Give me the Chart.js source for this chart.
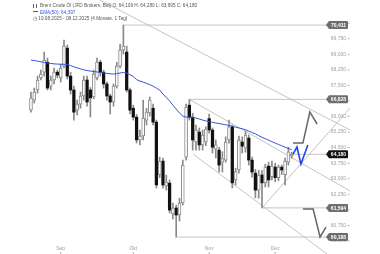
<!DOCTYPE html>
<html>
<head>
<meta charset="utf-8">
<script src="https://cdn.jsdelivr.net/npm/chart.js@4.4.1/dist/chart.umd.min.js"></script>
<style>
  html, body { margin: 0; padding: 0; background: #fff; }
  #wrap { position: relative; width: 380px; height: 254px; overflow: hidden; }
  canvas { position: absolute; left: 0; top: 0; }
  .hdr { position: absolute; left: 33px; font-family: "Liberation Sans", Arial, sans-serif; font-size: 4.7px; line-height: 6px; color: #555; white-space: nowrap; }
  .ico { display: inline-block; width: 4px; height: 4px; margin-right: 3px; border-left: 1px solid #666; border-right: 1px solid #666; vertical-align: -0.5px; box-sizing: border-box; }
  .dash { display: inline-block; width: 5px; height: 1.2px; background: #3355dd; margin-right: 2px; vertical-align: 1.5px; }
</style>
</head>
<body>
<div id="wrap">
  <canvas id="chart" width="380" height="254"></canvas>
  <div class="hdr" style="top:3px"><span class="ico"></span><span id="h1"></span></div>
  <div class="hdr" style="top:9.5px; color:#3355dd"><span class="dash"></span><span id="h2"></span></div>
  <div class="hdr" style="top:16px"><span id="h3"></span></div>
</div>
<script>
// Brent Crude Öl, daily candles 19.08.2025 - 08.12.2025
const dates = ['19.08.2025','20.08.2025','21.08.2025','22.08.2025','25.08.2025','26.08.2025','27.08.2025','28.08.2025','29.08.2025',
  '01.09.2025','02.09.2025','03.09.2025','04.09.2025','05.09.2025','08.09.2025','09.09.2025','10.09.2025','11.09.2025','12.09.2025',
  '15.09.2025','16.09.2025','17.09.2025','18.09.2025','19.09.2025','22.09.2025','23.09.2025','24.09.2025','25.09.2025','26.09.2025',
  '29.09.2025','30.09.2025',
  '01.10.2025','02.10.2025','03.10.2025','06.10.2025','07.10.2025','08.10.2025','09.10.2025','10.10.2025','13.10.2025','14.10.2025',
  '15.10.2025','16.10.2025','17.10.2025','20.10.2025','21.10.2025','22.10.2025','23.10.2025','24.10.2025','27.10.2025','28.10.2025',
  '29.10.2025','30.10.2025','31.10.2025',
  '03.11.2025','04.11.2025','05.11.2025','06.11.2025','07.11.2025','10.11.2025','11.11.2025','12.11.2025','13.11.2025','14.11.2025',
  '17.11.2025','18.11.2025','19.11.2025','20.11.2025','21.11.2025','24.11.2025','25.11.2025','26.11.2025','27.11.2025','28.11.2025',
  '01.12.2025','02.12.2025','03.12.2025','04.12.2025','05.12.2025','08.12.2025'];

const open = [66.31,66.79,67.28,67.86,68.14,68.62,67.47,67.76,68.14,67.86,
  68.43,69.30,67.95,67.28,66.31,66.60,66.99,67.76,67.28,66.95,
  67.86,68.62,68.14,67.57,66.99,66.70,67.47,68.43,69.21,69.11,
  67.28,66.40,65.97,64.87,65.06,65.83,66.17,66.40,65.73,63.20,
  63.85,62.65,62.79,61.30,61.59,61.25,61.83,64.04,66.55,65.97,
  64.77,65.25,64.63,64.77,65.90,65.35,64.43,64.38,63.80,63.90,
  64.87,65.50,62.94,63.42,64.77,64.48,64.96,63.90,63.27,62.45,
  63.18,62.80,63.61,63.10,63.56,63.05,63.56,63.20,63.80,64.109];
const high = [67.18,67.37,67.95,68.24,69.11,68.82,67.95,68.34,68.24,68.53,
  69.69,69.45,68.14,67.47,66.79,67.18,67.95,67.95,67.40,68.24,
  68.82,68.72,68.24,67.66,67.08,67.57,68.62,69.50,70.411,69.40,
  67.37,66.55,66.10,65.35,66.79,66.40,66.94,66.60,65.83,64.04,
  64.00,63.18,62.94,61.83,61.73,62.06,63.90,66.60,66.828,66.16,
  65.59,65.45,65.35,65.50,66.12,65.45,64.87,64.52,64.30,65.02,
  65.83,65.59,63.51,65.06,65.02,65.30,65.11,64.04,63.45,63.40,
  63.40,63.70,63.80,63.85,63.75,63.66,63.66,64.00,64.52,64.28];
const low = [66.21,66.65,67.13,67.76,67.95,67.28,67.28,67.57,67.86,67.66,
  68.34,67.81,67.08,65.83,66.07,66.40,66.79,66.50,65.98,66.85,
  67.76,67.95,67.37,66.79,66.12,66.50,67.37,68.34,69.01,67.18,
  66.12,65.83,64.72,64.63,64.87,65.59,66.02,65.59,62.55,63.05,
  62.55,62.45,61.35,61.06,60.188,60.96,61.73,63.90,65.83,64.38,
  64.38,64.38,64.38,64.60,65.20,64.24,64.00,63.32,63.32,63.80,
  64.72,62.55,62.70,63.27,64.24,64.28,63.66,63.08,62.08,62.06,
  61.594,62.60,62.60,62.94,62.85,62.90,63.20,62.70,63.66,63.995];
const close = [66.89,67.18,67.76,68.05,68.72,67.37,67.76,68.14,68.00,68.34,
  69.40,67.95,67.28,66.21,66.60,66.99,67.76,66.70,66.90,68.05,
  68.62,68.14,67.57,66.99,66.70,67.47,68.43,69.21,69.40,67.28,
  66.31,65.97,64.87,65.06,65.93,66.21,66.79,65.73,62.70,63.85,
  62.70,62.84,61.49,61.59,61.25,61.83,63.66,66.45,65.97,64.87,
  65.35,64.63,65.11,65.40,65.35,64.52,64.63,63.66,63.97,64.77,
  65.50,62.80,63.35,64.87,64.57,65.11,63.90,63.32,62.45,63.18,
  62.80,63.56,62.94,63.61,63.05,63.56,63.42,63.85,64.30,64.18];
const ema50 = [68.72,68.70,68.67,68.64,68.61,68.58,68.56,68.54,68.53,68.52,
  68.52,68.51,68.46,68.40,68.35,68.30,68.25,68.22,68.19,68.17,
  68.15,68.12,68.10,68.08,68.06,68.05,68.07,68.10,68.12,68.10,
  68.02,67.93,67.78,67.71,67.66,67.60,67.54,67.47,67.37,67.28,
  67.08,66.92,66.75,66.55,66.36,66.17,66.02,65.97,65.96,65.96,
  65.93,65.88,65.83,65.79,65.75,65.72,65.69,65.66,65.63,65.60,
  65.57,65.53,65.49,65.45,65.41,65.36,65.30,65.23,65.16,65.08,
  65.00,64.93,64.86,64.79,64.72,64.65,64.59,64.52,64.46,64.397];

// axis ticks and month labels
const yTicks = [60.00,60.75,61.50,62.25,63.00,63.75,64.50,65.25,66.00,66.75,67.50,68.25,69.00,69.75,70.50];
const monthIdx = [9, 31, 54, 74];
const monthNames = ['Sep', 'Okt', 'Nov', 'Dez'];

// price tags on the right (level, dark = current price)
const tagValues = [70.411, 66.828, 64.180, 61.594, 60.188];
const tagDark = [false, false, true, false, false];

// drawn trendlines, [candle index, price]
const trendHigh = [[20.9, 71.62], [96.7, 65.35]];
const channelTop = [[48, 66.828], [96.7, 62.41]];
const channelBottom = [[49.1, 64.19], [89.7, 59.37]];
const supportRise = [[70, 61.594], [96.7, 66.41]];
const levelLines = [
  [[28, 70.411], [90.5, 70.411]],
  [[48, 66.828], [90.5, 66.828]],
  [[70, 61.594], [90.5, 61.594]],
  [[44, 60.188], [90.5, 60.188]],
  [[79, 64.18], [90.5, 64.18]]
];
const projUp = [[79.4, 64.72], [82.4, 64.72], [84.5, 66.22], [86.7, 65.64]];
const projDown = [[82.4, 61.54], [85.5, 61.54], [87.6, 60.19], [89.4, 60.67]];
const blueMark = [[79.4, 64.19], [80.6, 64.53], [81.8, 63.71], [83.9, 64.63]];

const fmt = v => v.toFixed(3).replace('.', ',');
const last = dates.length - 1;

document.getElementById('h1').textContent = 'Brent Crude Öl (JFD Brokers, Bid)  O: ' + fmt(open[last]) +
  '  H: ' + fmt(high[last]) + '  L: ' + fmt(low[last]) + '  C: ' + fmt(close[last]);
document.getElementById('h2').textContent = 'EMA(50): ' + fmt(ema50[last]);
document.getElementById('h3').textContent = '\u25F7 ' + dates[0] + ' - ' + dates[last] + '  (4 Monate, 1 Tag)';

const pts = arr => arr.map(p => ({x: p[0], y: p[1]}));
const lineDs = (arr, color, width, order) => ({
  type: 'line', data: pts(arr), borderColor: color, borderWidth: width,
  pointRadius: 0, tension: 0, fill: false, order: order
});

const wicks = dates.map((d, i) => ({x: i, y: [low[i], high[i]]}));
const upBodies = [];
const downBodies = [];
dates.forEach((d, i) => {
  if (close[i] >= open[i]) upBodies.push({x: i, y: [open[i], close[i]]});
  else downBodies.push({x: i, y: [close[i], open[i]]});
});

const datasets = [
  lineDs(trendHigh, '#b5b5b5', 0.8, 9),
  lineDs(channelTop, '#b5b5b5', 0.8, 9),
  lineDs(channelBottom, '#b5b5b5', 0.8, 9),
  lineDs(supportRise, '#b5b5b5', 0.8, 9)
];
levelLines.forEach(l => datasets.push(lineDs(l, '#b5b5b5', 0.8, 9)));
datasets.push(
  {type: 'bar', data: wicks, backgroundColor: '#8a8a8a', barThickness: 1, grouped: false, order: 5},
  {type: 'bar', data: upBodies, backgroundColor: '#ffffff', borderColor: '#8a8a8a', borderWidth: 1,
   borderSkipped: false, barThickness: 3, grouped: false, order: 4},
  {type: 'bar', data: downBodies, backgroundColor: '#111111', barThickness: 2.6, grouped: false, order: 4},
  lineDs(dates.map((d, i) => [i, ema50[i]]), '#3355dd', 1, 2),
  lineDs(projUp, '#666666', 1.5, 1),
  lineDs(projDown, '#666666', 1.5, 1),
  lineDs(blueMark, '#2244ee', 1.6, 1)
);

const overlay = {
  id: 'overlay',
  afterDatasetsDraw(chart) {
    const {ctx, chartArea, scales: {x, y}} = chart;
    const right = chartArea.right;
    ctx.save();
    ctx.textBaseline = 'middle';
    ctx.font = '5px "Liberation Sans", Arial, sans-serif';

    // y axis labels with small tick marks
    ctx.fillStyle = '#a0a0a0';
    ctx.textAlign = 'right';
    yTicks.forEach(v => {
      const py = y.getPixelForValue(v);
      ctx.fillText(fmt(v), right - 4, py);
      ctx.fillRect(right - 2.5, py - 0.4, 2, 0.8);
    });

    // month labels
    ctx.textAlign = 'center';
    monthIdx.forEach((m, k) => {
      const px = x.getPixelForValue(m);
      ctx.fillText(monthNames[k], px, 249);
      ctx.fillRect(px - 0.4, 252, 0.8, 2);
    });

    // price tags
    ctx.font = 'bold 5px "Liberation Sans", Arial, sans-serif';
    tagValues.forEach((v, k) => {
      const py = y.getPixelForValue(v);
      const l = right - 21, r = right - 2, h = 8;
      ctx.fillStyle = tagDark[k] ? '#111111' : '#6e6e6e';
      ctx.beginPath();
      ctx.moveTo(l - 3, py);
      ctx.lineTo(l, py - h / 2);
      ctx.lineTo(r - 1, py - h / 2);
      ctx.quadraticCurveTo(r, py - h / 2, r, py - h / 2 + 1);
      ctx.lineTo(r, py + h / 2 - 1);
      ctx.quadraticCurveTo(r, py + h / 2, r - 1, py + h / 2);
      ctx.lineTo(l, py + h / 2);
      ctx.closePath();
      ctx.fill();
      ctx.fillStyle = '#ffffff';
      ctx.fillText(fmt(v), (l + r) / 2, py + 0.3);
    });
    ctx.restore();
  }
};

new Chart(document.getElementById('chart'), {
  type: 'bar',
  data: {datasets: datasets},
  options: {
    responsive: false,
    animation: false,
    devicePixelRatio: 1,
    events: [],
    layout: {padding: {left: 0, right: 30, top: 0, bottom: 0}},
    scales: {
      x: {type: 'linear', min: -9.39, max: 96.67, display: false, offset: false},
      y: {type: 'linear', min: 59.37, max: 71.62, display: false}
    },
    plugins: {legend: {display: false}, tooltip: {enabled: false}}
  },
  plugins: [overlay]
});
</script>
</body>
</html>
